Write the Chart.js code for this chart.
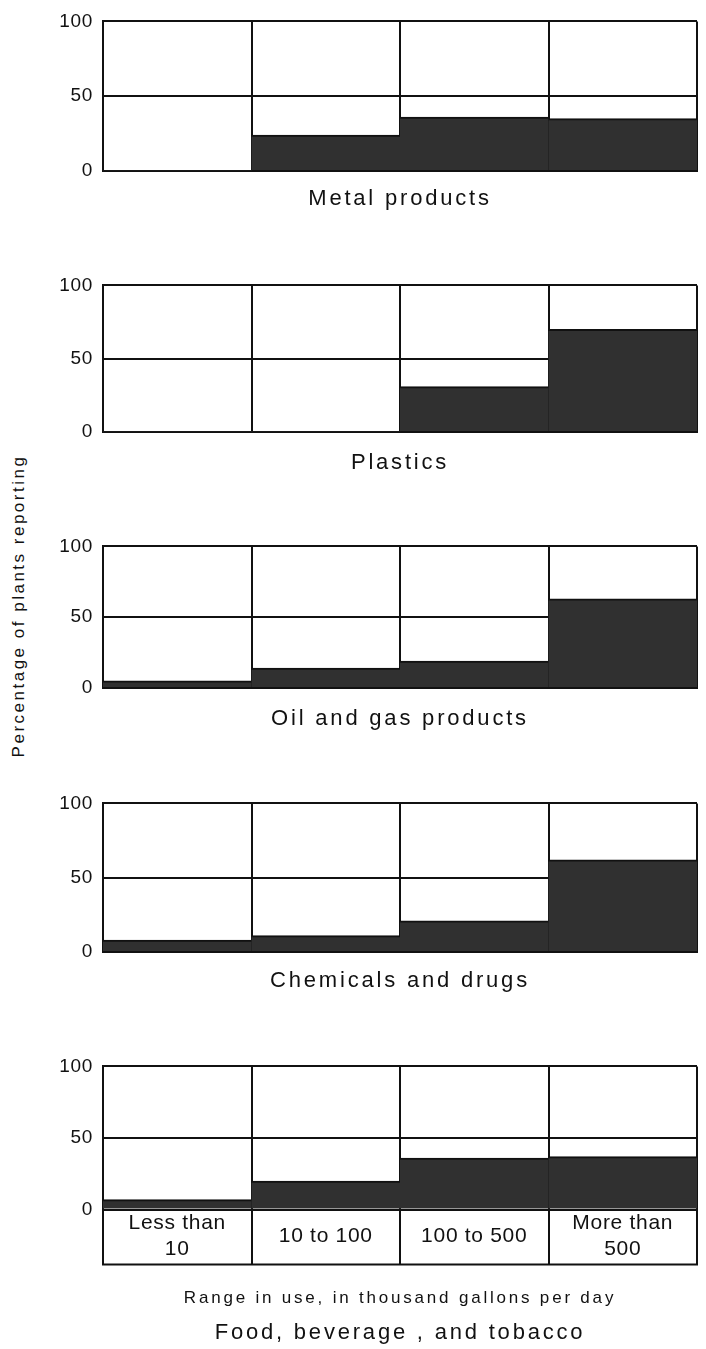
<!DOCTYPE html>
<html>
<head>
<meta charset="utf-8">
<script src="https://cdn.jsdelivr.net/npm/chart.js@4"></script>
<style>
  body { margin: 0; background: #fff; }
  #page { position: relative; width: 706px; height: 1349px; overflow: hidden; background: #fff; }
  .panel { position: absolute; left: 40px; width: 666px; }
  #ytitle {
    position: absolute; left: 19px; top: 606px;
    transform: translate(-50%, -50%) rotate(-90deg);
    white-space: nowrap; font: 17px "Liberation Sans", sans-serif; letter-spacing: 2.5px; color: #111;
  }
</style>
</head>
<body>
<div id="page">
  <div id="ytitle">Percentage of plants reporting</div>
  <div class="panel" style="top:0px;height:216px"><canvas id="p1"></canvas></div>
  <div class="panel" style="top:264px;height:213px"><canvas id="p2"></canvas></div>
  <div class="panel" style="top:525px;height:208px"><canvas id="p3"></canvas></div>
  <div class="panel" style="top:782px;height:215px"><canvas id="p4"></canvas></div>
  <div class="panel" style="top:1045px;height:304px"><canvas id="p5"></canvas></div>
</div>
<script>
// Datos (porcentaje de plantas que reportan)
const categorias = [['Less than', '10'], '10 to 100', '100 to 500', ['More than', '500']];
const yTicks = [0, 50, 100];
const metalProducts = [0, 24, 36, 35];
const plastics = [0, 0, 31, 70];
const oilGas = [5, 14, 19, 63];
const chemicals = [8, 11, 21, 62];
const food = [7, 20, 36, 37];

const titulosPaneles = ['Metal products', 'Plastics', 'Oil and gas products', 'Chemicals and drugs'];
const tituloEje = 'Range in use, in thousand gallons per day';
const tituloFood = 'Food, beverage , and tobacco';

const tinta = '#111';
const relleno = '#303030';
const fuente = 'Liberation Sans';

// espaciado de letras como en el rotulado original:
// titulos antes de las barras, etiquetas de ticks (z: 1) despues
const espaciado = {
  id: 'espaciado',
  beforeLayout(chart) { chart.ctx.letterSpacing = '2.8px'; },
  beforeDraw(chart) { chart.ctx.letterSpacing = '2.8px'; },
  afterDatasetsDraw(chart) { chart.ctx.letterSpacing = '0.7px'; }
};

// linea inferior de la caja de categorias
const cajaEtiquetas = {
  id: 'cajaEtiquetas',
  afterDraw(chart) {
    const a = chart.chartArea;
    const y = a.bottom + chart.scales.x.options.grid.tickLength;
    const ctx = chart.ctx;
    ctx.save();
    ctx.strokeStyle = tinta;
    ctx.lineWidth = 2;
    ctx.beginPath();
    ctx.moveTo(a.left - 1, y);
    ctx.lineTo(a.right + 1, y);
    ctx.stroke();
    ctx.restore();
  }
};

function crearPanel(id, valores, opts) {
  const ultimo = !!opts.ultimo;
  return new Chart(document.getElementById(id), {
    type: 'bar',
    data: {
      labels: categorias,
      datasets: [{
        data: valores,
        backgroundColor: relleno,
        borderColor: tinta,
        borderWidth: {top: 2, left: 0, right: 0, bottom: 0},
        borderSkipped: 'start',
        categoryPercentage: 1,
        barPercentage: 1
      }]
    },
    options: {
      responsive: true,
      maintainAspectRatio: false,
      animation: false,
      layout: {padding: {top: 12, right: 9, left: 0, bottom: 0}},
      plugins: {
        legend: {display: false},
        tooltip: {enabled: false},
        title: {
          display: ultimo,
          fullSize: false,
          text: tituloFood,
          position: 'bottom',
          color: tinta,
          font: {family: fuente, size: 22, weight: 'normal', lineHeight: 1.2},
          padding: {top: 8, bottom: 3}
        }
      },
      scales: {
        x: {
          offset: true,
          grid: {
            offset: true,
            color: tinta,
            lineWidth: 2,
            drawTicks: ultimo,
            tickLength: ultimo ? 55 : 0
          },
          border: {display: true, color: tinta, width: 2},
          ticks: {
            display: ultimo,
            z: 1,
            color: tinta,
            padding: -41,
            maxRotation: 0,
            autoSkip: false,
            crossAlign: 'center',
            font: {family: fuente, size: 21, lineHeight: 1.2}
          },
          title: {
            display: true,
            text: ultimo ? tituloEje : opts.titulo,
            color: tinta,
            font: {family: fuente, size: ultimo ? 17 : 22, lineHeight: 1.2},
            padding: {top: 0, bottom: opts.pad}
          },
          afterFit(scale) { scale.height = opts.alturaX; }
        },
        y: {
          min: 0,
          max: 100,
          afterBuildTicks(scale) { scale.ticks = yTicks.map(v => ({value: v})); },
          grid: {color: tinta, lineWidth: 2, drawTicks: false},
          border: {display: true, color: tinta, width: 2},
          ticks: {z: 1, color: tinta, padding: 10, font: {family: fuente, size: 19}},
          afterFit(scale) { scale.width = 63; }
        }
      }
    },
    plugins: ultimo ? [espaciado, cajaEtiquetas] : [espaciado]
  });
}

crearPanel('p1', metalProducts, {titulo: titulosPaneles[0], alturaX: 45, pad: 3.5});
crearPanel('p2', plastics, {titulo: titulosPaneles[1], alturaX: 45, pad: 0.5});
crearPanel('p3', oilGas, {titulo: titulosPaneles[2], alturaX: 45, pad: 0.5});
crearPanel('p4', chemicals, {titulo: titulosPaneles[3], alturaX: 45, pad: 2.5});
crearPanel('p5', food, {ultimo: true, alturaX: 102, pad: 3});
</script>
</body>
</html>
